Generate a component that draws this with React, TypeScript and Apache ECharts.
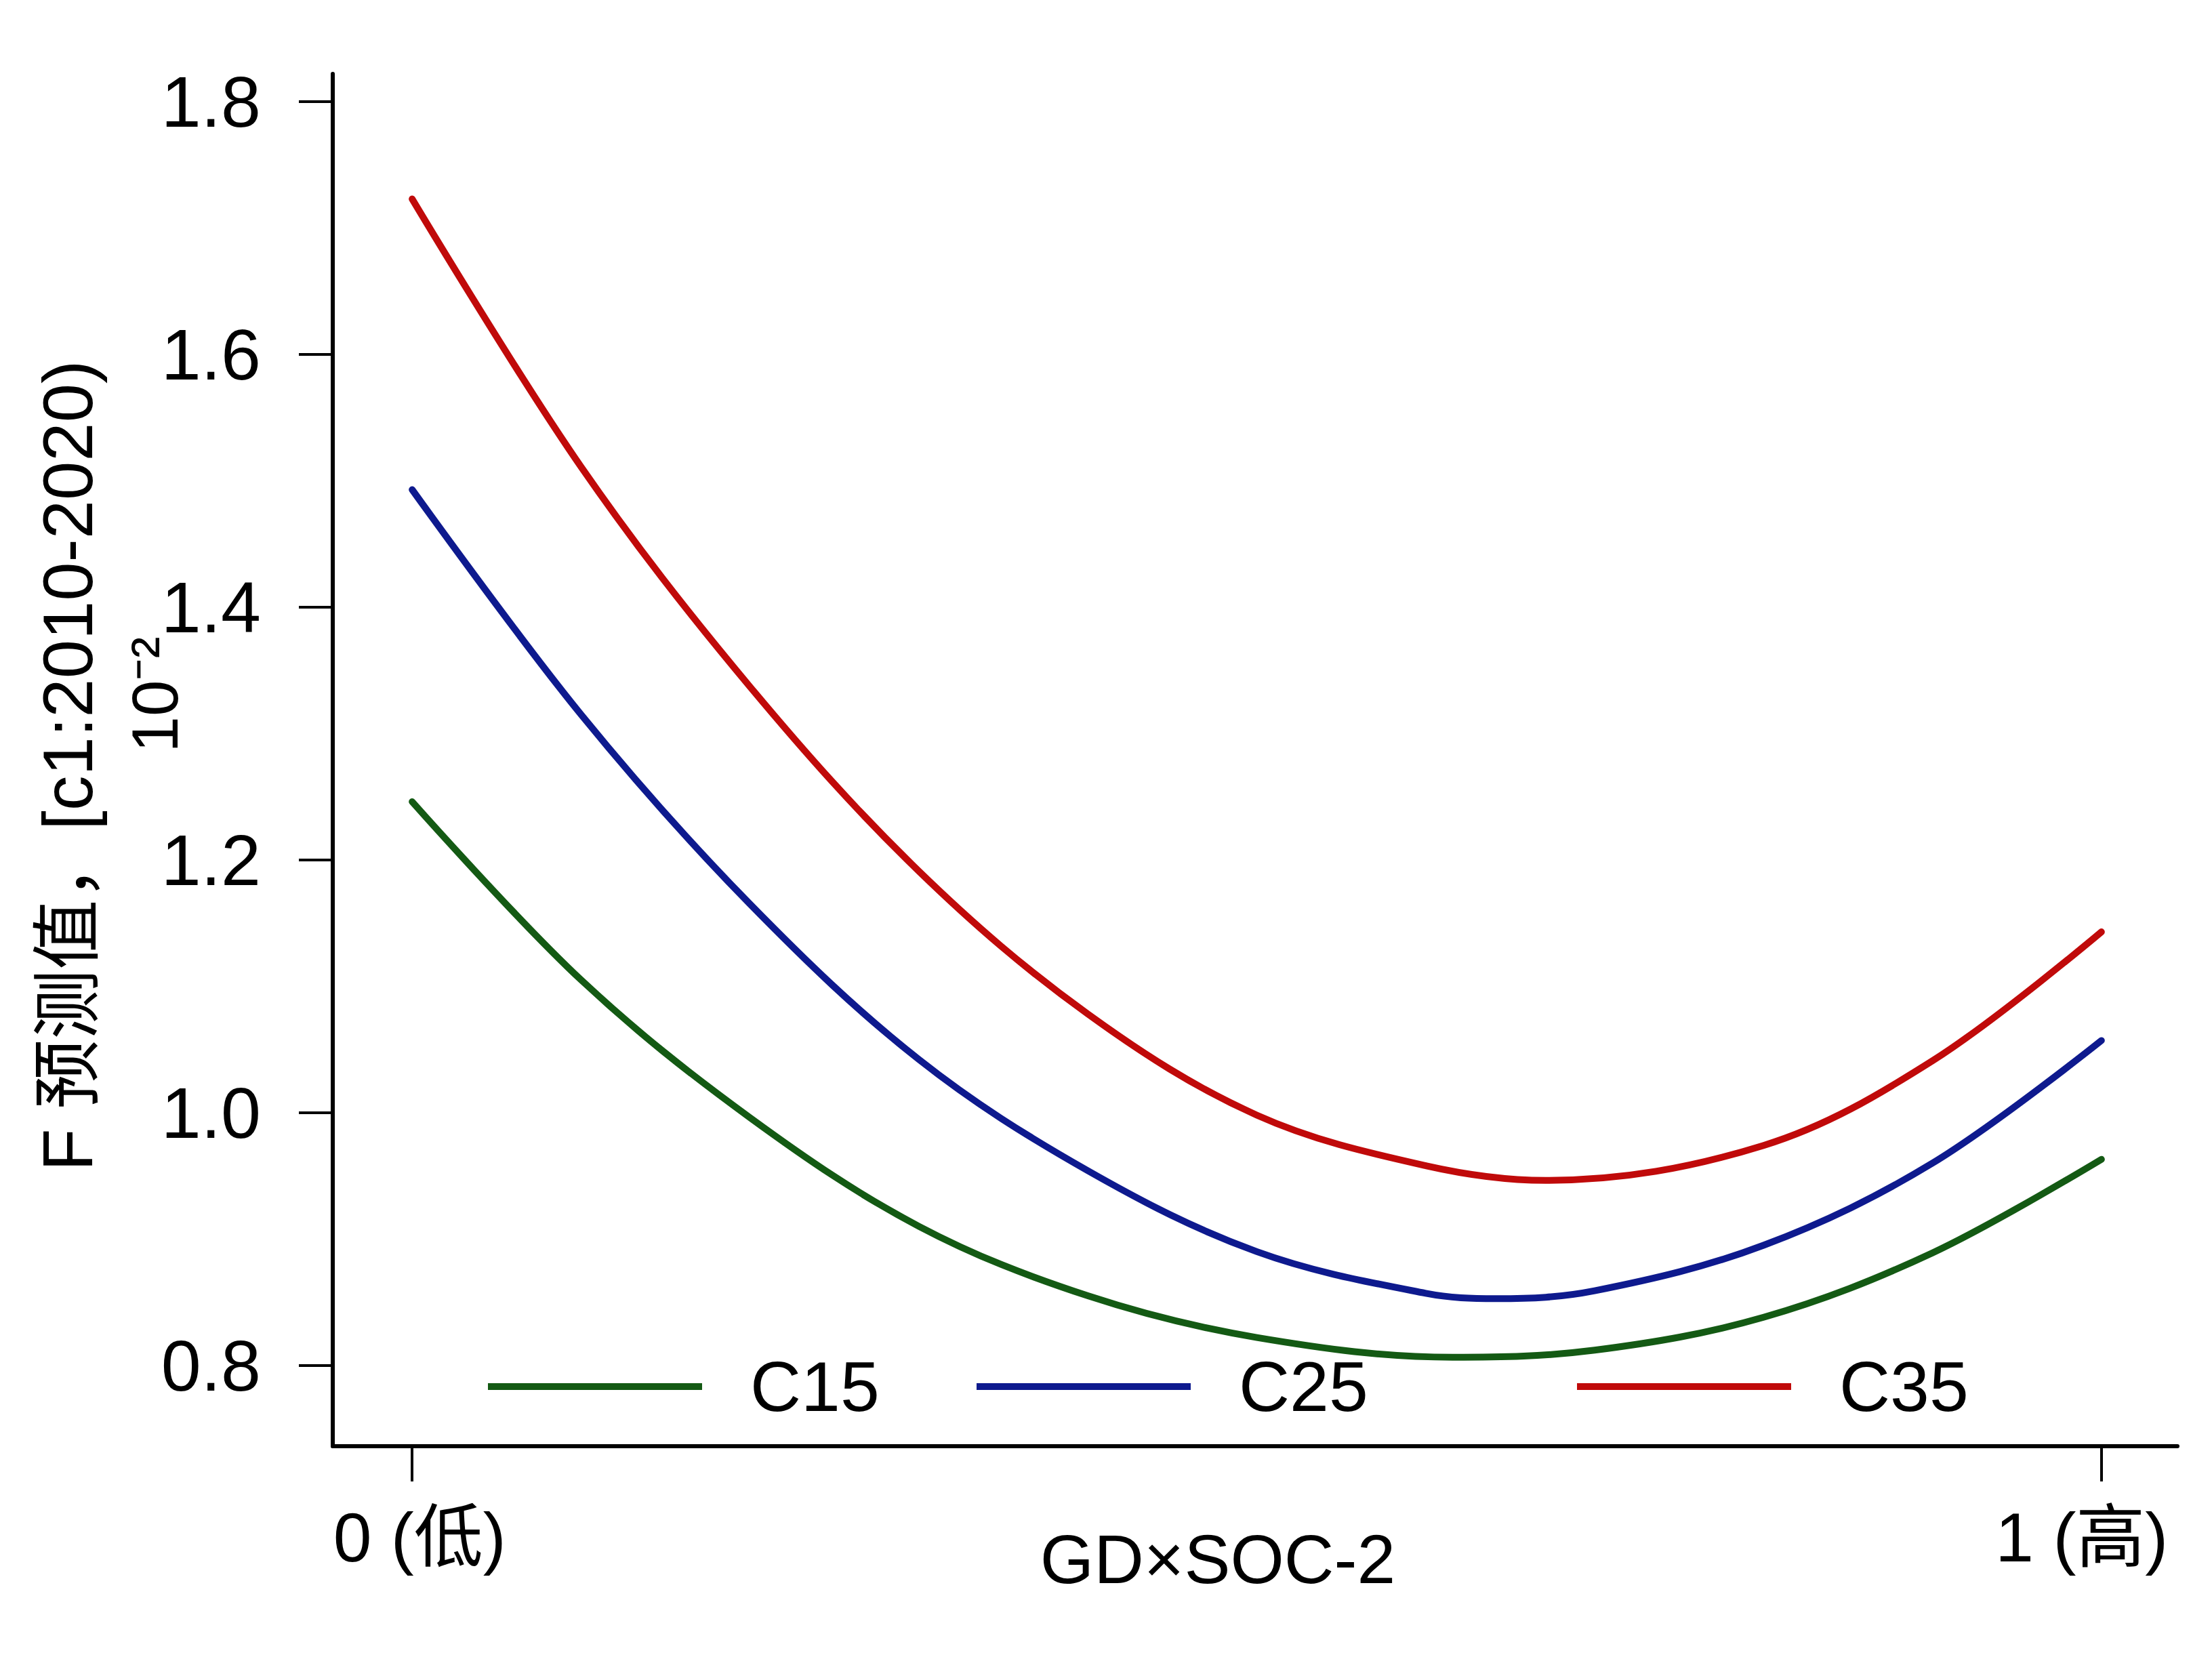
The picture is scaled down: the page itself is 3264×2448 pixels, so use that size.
import React, { useEffect, useRef } from "react";
import * as echarts from "echarts";

// x positions (0 = low, 1 = high) and predicted values;
// each curve also carries the reading taken at its lowest point
const c15X = [0, 0.1, 0.2, 0.3, 0.4, 0.5, 0.616, 0.7, 0.8, 0.9, 1.0];
const c15 = [1.246, 1.105, 0.996, 0.91, 0.855, 0.822, 0.8064, 0.812, 0.838, 0.889, 0.963];
const c25X = [0, 0.1, 0.2, 0.3, 0.4, 0.5, 0.6, 0.642, 0.7, 0.8, 0.9, 1.0];
const c25 = [1.493, 1.315, 1.165, 1.042, 0.954, 0.89, 0.857, 0.8528, 0.859, 0.895, 0.96, 1.057];
const c35X = [0, 0.1, 0.2, 0.3, 0.4, 0.5, 0.6, 0.671, 0.8, 0.9, 1.0];
const c35 = [1.723, 1.511, 1.337, 1.191, 1.078, 0.998, 0.958, 0.9464, 0.974, 1.041, 1.143];
const seriesNames = ["C15", "C25", "C35"];
const seriesColors = ["#145a14", "#0e1a8e", "#c00a0a"];
const yTicks = [0.8, 1.0, 1.2, 1.4, 1.6, 1.8];
const xTicks = [0, 1];
const xTickLabels = ["0 (低)", "1 (高)"];
const xAxisTitle = "GD×SOC-2";
const yAxisTitle = "F 预测值，[c1:2010-2020)";
const yAxisUnit = "10⁻²";

const FONT = "'Liberation Sans', Arial, 'Noto Sans CJK SC', sans-serif";

export default function App() {
  const ref = useRef<HTMLDivElement>(null);
  useEffect(() => {
    if (!ref.current) return;
    const chart = echarts.init(ref.current, undefined, { renderer: "svg" });
    const xs = [c15X, c25X, c35X];
    const ys = [c15, c25, c35];
    const legendLefts = [720, 1441, 2327];
    const option: any = {
      animation: false,
      backgroundColor: "#ffffff",
      grid: { left: 491, right: 51, top: 109, bottom: 314, containLabel: false },
      xAxis: {
        type: "value",
        min: -0.047,
        max: 1.045,
        axisLine: { show: true, onZero: false, lineStyle: { color: "#000", width: 6 } },
        axisTick: {
          show: true,
          customValues: xTicks,
          length: 52,
          lineStyle: { color: "#000", width: 4 },
        },
        axisLabel: {
          customValues: xTicks,
          margin: 84,
          fontSize: 102,
          fontFamily: FONT,
          color: "#000",
          formatter: (v: number) => {
            const i = xTicks.indexOf(v);
            if (i < 0) return "";
            return i === 0 ? "{l|" + xTickLabels[0] + "}" : "{r|" + xTickLabels[1] + "}";
          },
          rich: {
            l: { fontSize: 102, fontFamily: FONT, color: "#000", padding: [0, 0, 0, 22] },
            r: { fontSize: 102, fontFamily: FONT, color: "#000", padding: [0, 58, 0, 0] },
          },
        },
        splitLine: { show: false },
      },
      yAxis: {
        type: "value",
        min: 0.736,
        max: 1.822,
        axisLine: { show: true, onZero: false, lineStyle: { color: "#000", width: 6 } },
        axisTick: {
          show: true,
          customValues: yTicks,
          length: 50,
          lineStyle: { color: "#000", width: 4 },
        },
        axisLabel: {
          customValues: yTicks,
          margin: 106,
          fontSize: 106,
          fontFamily: FONT,
          color: "#000",
          formatter: (v: number) => v.toFixed(1),
        },
        splitLine: { show: false },
      },
      legend: seriesNames.map((n, i) => ({
        data: [n],
        left: legendLefts[i],
        top: 1994,
        padding: 0,
        icon: "rect",
        itemWidth: 316,
        itemHeight: 10,
        textStyle: {
          fontSize: 104,
          lineHeight: 104,
          fontFamily: FONT,
          color: "#000",
          padding: [0, 0, 0, 66],
        },
      })),
      series: seriesNames.map((n, i) => ({
        name: n,
        type: "line",
        smooth: 0.35,
        symbol: "none",
        color: seriesColors[i],
        lineStyle: { color: seriesColors[i], width: 10, cap: "round", join: "round" },
        data: xs[i].map((x, j) => [x, ys[i][j]]),
      })),
      graphic: [
        {
          type: "text",
          x: 100,
          y: 1130,
          rotation: Math.PI / 2,
          style: {
            text: yAxisTitle,
            fontSize: 103,
            fontFamily: FONT,
            fill: "#000",
            align: "center",
            verticalAlign: "middle",
          },
        },
        {
          type: "text",
          x: 228,
          y: 1025,
          rotation: Math.PI / 2,
          style: {
            text: yAxisUnit,
            fontSize: 96,
            fontFamily: FONT,
            fill: "#000",
            align: "center",
            verticalAlign: "middle",
          },
        },
        {
          type: "text",
          x: 1797,
          y: 2301,
          style: {
            text: xAxisTitle,
            fontSize: 102,
            fontFamily: FONT,
            fill: "#000",
            align: "center",
            verticalAlign: "middle",
          },
        },
      ],
    };
    chart.setOption(option);
    return () => chart.dispose();
  }, []);
  return (
    <div
      ref={ref}
      style={{ position: "fixed", left: 0, top: 0, width: 3264, height: 2448, background: "#fff" }}
    />
  );
}
